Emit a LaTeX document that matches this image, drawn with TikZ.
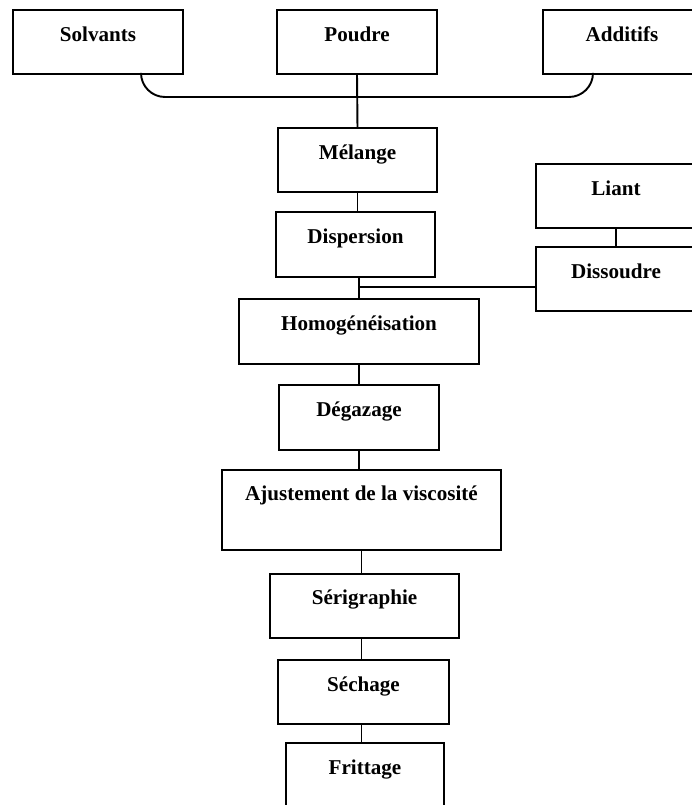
\documentclass[tikz,border=0pt]{standalone}
\usepackage{fontspec}
\setmainfont{Liberation Serif}
\usepackage{tikz}

\begin{document}
\begin{tikzpicture}[
    every node/.style={font=\fontsize{12}{14}\selectfont\bfseries},
    etape/.style={draw, line width=1.1pt, inner sep=0pt, anchor=north,
                  text height=0.64cm, text depth=0.64cm},
    lien/.style={line width=1.1pt}]
    \useasboundingbox (0,0) rectangle (13.82,-16.1);
    % Constituants de depart
    \node[etape, minimum width=3.4cm] (solvants) at (1.96,-0.18) {Solvants};
    \node[etape, minimum width=3.2cm] (poudre) at (7.14,-0.18) {Poudre};
    \node[etape, minimum width=3.16cm] (additifs) at (12.44,-0.18) {Additifs};
    % Melange et dispersion
    \node[etape, minimum width=3.18cm] (melange) at (7.15,-2.54) {Mélange};
    \node[etape, minimum width=3.18cm, text depth=0.66cm] (dispersion) at (7.11,-4.22) {Dispersion};
    % Liant mis en solution
    \node[etape, minimum width=3.2cm] (liant) at (12.32,-3.26) {Liant};
    \node[etape, minimum width=3.2cm] (dissoudre) at (12.32,-4.92) {Dissoudre};
    % Suite du procede
    \node[etape, minimum width=4.8cm, text depth=0.66cm] (homog) at (7.18,-5.96) {Homogénéisation};
    \node[etape, minimum width=3.2cm, text depth=0.66cm] (degazage) at (7.18,-7.68) {Dégazage};
    \node[etape, minimum width=5.58cm, text height=0.62cm, text depth=0.98cm] (ajustement) at (7.23,-9.38) {Ajustement de la viscosité};
    \node[etape, minimum width=3.78cm, text height=0.62cm, text depth=0.66cm] (serigraphie) at (7.29,-11.46) {Sérigraphie};
    \node[etape, minimum width=3.42cm] (sechage) at (7.27,-13.18) {Séchage};
    \node[etape, minimum width=3.16cm, text depth=0.8cm] (frittage) at (7.3,-14.84) {Frittage};
    % Reunion des constituants
    \coordinate (jonction) at (poudre.south |- 0,-1.94);
    \draw[lien, rounded corners=0.48cm] ([xshift=0.86cm]solvants.south) |- (jonction) -| ([xshift=-0.58cm]additifs.south);
    \draw[lien] (poudre.south) -- (melange.north);
    \draw[lien] (melange.south) -- (melange.south |- dispersion.north);
    % Arrivee du liant dissous
    \draw[lien] (homog.north |- dispersion.south) -- (homog.north);
    \coordinate (branche) at (homog.north |- 0,-5.74);
    \draw[lien] (branche) -- (branche -| dissoudre.west);
    \draw[lien] (liant.south) -- (dissoudre.north);
    % Enchainement des etapes
    \draw[lien] (homog.south) -- (homog.south |- degazage.north);
    \draw[lien] (degazage.south) -- (degazage.south |- ajustement.north);
    \draw[lien] (ajustement.south) -- (ajustement.south |- serigraphie.north);
    \draw[lien] (ajustement.south |- serigraphie.south) -- (ajustement.south |- sechage.north);
    \draw[lien] (ajustement.south |- sechage.south) -- (ajustement.south |- frittage.north);
\end{tikzpicture}
\end{document}
